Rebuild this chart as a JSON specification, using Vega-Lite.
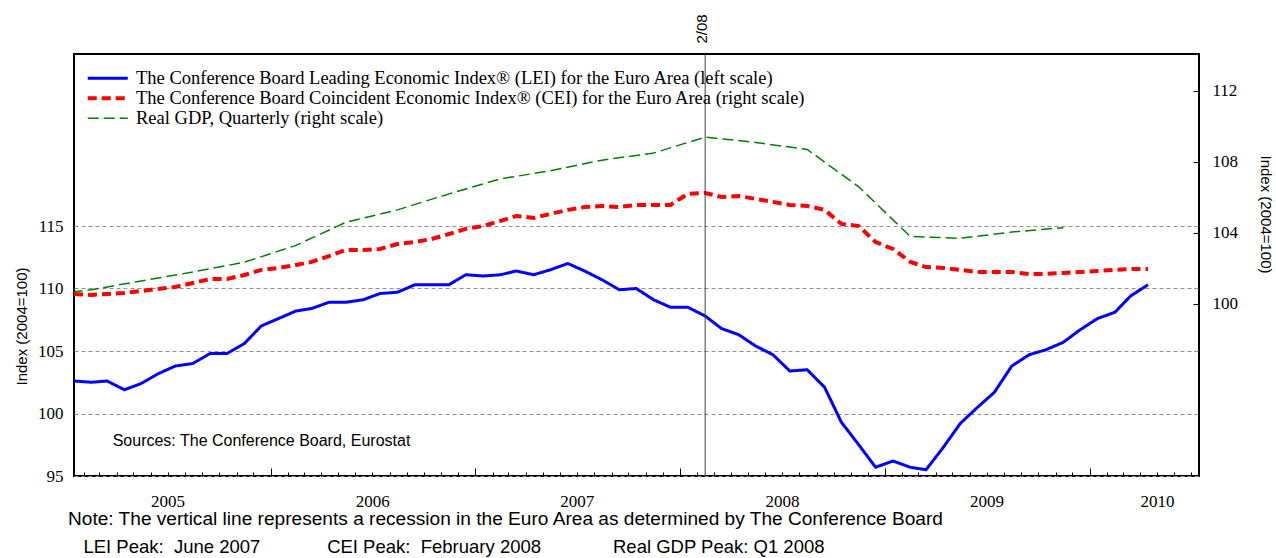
{
  "$schema": "https://vega.github.io/schema/vega-lite/v6.json",
  "width": 1125,
  "height": 422,
  "autosize": "none",
  "padding": {"left": 74, "top": 54, "right": 77, "bottom": 82},
  "background": "white",
  "config": {
    "view": {"stroke": "black", "strokeWidth": 2},
    "legend": {
      "padding": 0,
      "labelFont": "Liberation Serif",
      "labelFontSize": 18.5,
      "labelColor": "black",
      "labelLimit": 1200,
      "symbolType": "M-4,0H4",
      "symbolSize": 100,
      "symbolOffset": 12.5,
      "labelOffset": 19,
      "rowPadding": 1
    }
  },
  "datasets": {
    "series": [
      {"d": "2005-01-15", "s": "LEI", "v": 102.6}, {"d": "2005-02-15", "s": "LEI", "v": 102.5}, {"d": "2005-03-15", "s": "LEI", "v": 102.6}, {"d": "2005-04-15", "s": "LEI", "v": 101.9},
      {"d": "2005-05-15", "s": "LEI", "v": 102.4}, {"d": "2005-06-15", "s": "LEI", "v": 103.2}, {"d": "2005-07-15", "s": "LEI", "v": 103.8}, {"d": "2005-08-15", "s": "LEI", "v": 104.0},
      {"d": "2005-09-15", "s": "LEI", "v": 104.8}, {"d": "2005-10-15", "s": "LEI", "v": 104.8}, {"d": "2005-11-15", "s": "LEI", "v": 105.6}, {"d": "2005-12-15", "s": "LEI", "v": 107.0},
      {"d": "2006-01-15", "s": "LEI", "v": 107.6}, {"d": "2006-02-15", "s": "LEI", "v": 108.2}, {"d": "2006-03-15", "s": "LEI", "v": 108.4}, {"d": "2006-04-15", "s": "LEI", "v": 108.9},
      {"d": "2006-05-15", "s": "LEI", "v": 108.9}, {"d": "2006-06-15", "s": "LEI", "v": 109.1}, {"d": "2006-07-15", "s": "LEI", "v": 109.6}, {"d": "2006-08-15", "s": "LEI", "v": 109.7},
      {"d": "2006-09-15", "s": "LEI", "v": 110.3}, {"d": "2006-10-15", "s": "LEI", "v": 110.3}, {"d": "2006-11-15", "s": "LEI", "v": 110.3}, {"d": "2006-12-15", "s": "LEI", "v": 111.1},
      {"d": "2007-01-15", "s": "LEI", "v": 111.0}, {"d": "2007-02-15", "s": "LEI", "v": 111.1}, {"d": "2007-03-15", "s": "LEI", "v": 111.4}, {"d": "2007-04-15", "s": "LEI", "v": 111.1},
      {"d": "2007-05-15", "s": "LEI", "v": 111.5}, {"d": "2007-06-15", "s": "LEI", "v": 112.0}, {"d": "2007-07-15", "s": "LEI", "v": 111.4}, {"d": "2007-08-15", "s": "LEI", "v": 110.7},
      {"d": "2007-09-15", "s": "LEI", "v": 109.9}, {"d": "2007-10-15", "s": "LEI", "v": 110.0}, {"d": "2007-11-15", "s": "LEI", "v": 109.1}, {"d": "2007-12-15", "s": "LEI", "v": 108.5},
      {"d": "2008-01-15", "s": "LEI", "v": 108.5}, {"d": "2008-02-15", "s": "LEI", "v": 107.8}, {"d": "2008-03-15", "s": "LEI", "v": 106.8}, {"d": "2008-04-15", "s": "LEI", "v": 106.3},
      {"d": "2008-05-15", "s": "LEI", "v": 105.4}, {"d": "2008-06-15", "s": "LEI", "v": 104.7}, {"d": "2008-07-15", "s": "LEI", "v": 103.4}, {"d": "2008-08-15", "s": "LEI", "v": 103.5},
      {"d": "2008-09-15", "s": "LEI", "v": 102.1}, {"d": "2008-10-15", "s": "LEI", "v": 99.3}, {"d": "2008-11-15", "s": "LEI", "v": 97.5}, {"d": "2008-12-15", "s": "LEI", "v": 95.7},
      {"d": "2009-01-15", "s": "LEI", "v": 96.2}, {"d": "2009-02-15", "s": "LEI", "v": 95.7}, {"d": "2009-03-15", "s": "LEI", "v": 95.5}, {"d": "2009-04-15", "s": "LEI", "v": 97.3},
      {"d": "2009-05-15", "s": "LEI", "v": 99.2}, {"d": "2009-06-15", "s": "LEI", "v": 100.5}, {"d": "2009-07-15", "s": "LEI", "v": 101.7}, {"d": "2009-08-15", "s": "LEI", "v": 103.8},
      {"d": "2009-09-15", "s": "LEI", "v": 104.7}, {"d": "2009-10-15", "s": "LEI", "v": 105.1}, {"d": "2009-11-15", "s": "LEI", "v": 105.7}, {"d": "2009-12-15", "s": "LEI", "v": 106.7},
      {"d": "2010-01-15", "s": "LEI", "v": 107.6}, {"d": "2010-02-15", "s": "LEI", "v": 108.1}, {"d": "2010-03-15", "s": "LEI", "v": 109.4}, {"d": "2010-04-15", "s": "LEI", "v": 110.3},

      {"d": "2005-01-15", "s": "CEI", "v": 100.56}, {"d": "2005-02-15", "s": "CEI", "v": 100.51}, {"d": "2005-03-15", "s": "CEI", "v": 100.56}, {"d": "2005-04-15", "s": "CEI", "v": 100.62},
      {"d": "2005-05-15", "s": "CEI", "v": 100.73}, {"d": "2005-06-15", "s": "CEI", "v": 100.85}, {"d": "2005-07-15", "s": "CEI", "v": 100.96}, {"d": "2005-08-15", "s": "CEI", "v": 101.18},
      {"d": "2005-09-15", "s": "CEI", "v": 101.41}, {"d": "2005-10-15", "s": "CEI", "v": 101.41}, {"d": "2005-11-15", "s": "CEI", "v": 101.63}, {"d": "2005-12-15", "s": "CEI", "v": 101.92},
      {"d": "2006-01-15", "s": "CEI", "v": 102.03}, {"d": "2006-02-15", "s": "CEI", "v": 102.2}, {"d": "2006-03-15", "s": "CEI", "v": 102.37}, {"d": "2006-04-15", "s": "CEI", "v": 102.7},
      {"d": "2006-05-15", "s": "CEI", "v": 103.04}, {"d": "2006-06-15", "s": "CEI", "v": 103.04}, {"d": "2006-07-15", "s": "CEI", "v": 103.1}, {"d": "2006-08-15", "s": "CEI", "v": 103.38},
      {"d": "2006-09-15", "s": "CEI", "v": 103.49}, {"d": "2006-10-15", "s": "CEI", "v": 103.66}, {"d": "2006-11-15", "s": "CEI", "v": 103.94}, {"d": "2006-12-15", "s": "CEI", "v": 104.23},
      {"d": "2007-01-15", "s": "CEI", "v": 104.39}, {"d": "2007-02-15", "s": "CEI", "v": 104.68}, {"d": "2007-03-15", "s": "CEI", "v": 104.96}, {"d": "2007-04-15", "s": "CEI", "v": 104.85},
      {"d": "2007-05-15", "s": "CEI", "v": 105.07}, {"d": "2007-06-15", "s": "CEI", "v": 105.3}, {"d": "2007-07-15", "s": "CEI", "v": 105.46}, {"d": "2007-08-15", "s": "CEI", "v": 105.52},
      {"d": "2007-09-15", "s": "CEI", "v": 105.46}, {"d": "2007-10-15", "s": "CEI", "v": 105.58}, {"d": "2007-11-15", "s": "CEI", "v": 105.58}, {"d": "2007-12-15", "s": "CEI", "v": 105.58},
      {"d": "2008-01-15", "s": "CEI", "v": 106.2}, {"d": "2008-02-15", "s": "CEI", "v": 106.25}, {"d": "2008-03-15", "s": "CEI", "v": 106.03}, {"d": "2008-04-15", "s": "CEI", "v": 106.08},
      {"d": "2008-05-15", "s": "CEI", "v": 105.92}, {"d": "2008-06-15", "s": "CEI", "v": 105.75}, {"d": "2008-07-15", "s": "CEI", "v": 105.58}, {"d": "2008-08-15", "s": "CEI", "v": 105.52},
      {"d": "2008-09-15", "s": "CEI", "v": 105.3}, {"d": "2008-10-15", "s": "CEI", "v": 104.51}, {"d": "2008-11-15", "s": "CEI", "v": 104.39}, {"d": "2008-12-15", "s": "CEI", "v": 103.49},
      {"d": "2009-01-15", "s": "CEI", "v": 103.1}, {"d": "2009-02-15", "s": "CEI", "v": 102.37}, {"d": "2009-03-15", "s": "CEI", "v": 102.08}, {"d": "2009-04-15", "s": "CEI", "v": 102.03},
      {"d": "2009-05-15", "s": "CEI", "v": 101.92}, {"d": "2009-06-15", "s": "CEI", "v": 101.8}, {"d": "2009-07-15", "s": "CEI", "v": 101.8}, {"d": "2009-08-15", "s": "CEI", "v": 101.8},
      {"d": "2009-09-15", "s": "CEI", "v": 101.69}, {"d": "2009-10-15", "s": "CEI", "v": 101.69}, {"d": "2009-11-15", "s": "CEI", "v": 101.75}, {"d": "2009-12-15", "s": "CEI", "v": 101.8},
      {"d": "2010-01-15", "s": "CEI", "v": 101.86}, {"d": "2010-02-15", "s": "CEI", "v": 101.92}, {"d": "2010-03-15", "s": "CEI", "v": 101.97}, {"d": "2010-04-15", "s": "CEI", "v": 101.97},

      {"d": "2004-11-15", "s": "GDP", "v": 100.45},
      {"d": "2005-02-15", "s": "GDP", "v": 100.8}, {"d": "2005-05-15", "s": "GDP", "v": 101.3}, {"d": "2005-08-15", "s": "GDP", "v": 101.8}, {"d": "2005-11-15", "s": "GDP", "v": 102.35},
      {"d": "2006-02-15", "s": "GDP", "v": 103.3}, {"d": "2006-05-15", "s": "GDP", "v": 104.6}, {"d": "2006-08-15", "s": "GDP", "v": 105.3}, {"d": "2006-11-15", "s": "GDP", "v": 106.2},
      {"d": "2007-02-15", "s": "GDP", "v": 107.05}, {"d": "2007-05-15", "s": "GDP", "v": 107.5}, {"d": "2007-08-15", "s": "GDP", "v": 108.1}, {"d": "2007-11-15", "s": "GDP", "v": 108.5},
      {"d": "2008-02-15", "s": "GDP", "v": 109.4}, {"d": "2008-05-15", "s": "GDP", "v": 109.1}, {"d": "2008-08-15", "s": "GDP", "v": 108.7}, {"d": "2008-11-15", "s": "GDP", "v": 106.6},
      {"d": "2009-02-15", "s": "GDP", "v": 103.8}, {"d": "2009-05-15", "s": "GDP", "v": 103.7}, {"d": "2009-08-15", "s": "GDP", "v": 104.05}, {"d": "2009-11-15", "s": "GDP", "v": 104.3}
    ],
    "recession": [{"d": "2008-02-15"}]
  },
  "title": {
    "text": "Note: The vertical line represents a recession in the Euro Area as determined by The Conference Board",
    "subtitle": "\u200b\u00a0\u00a0\u00a0LEI Peak: \u00a0June 2007\u00a0\u00a0\u00a0\u00a0\u00a0\u00a0\u00a0\u00a0\u00a0\u00a0\u00a0\u00a0\u00a0CEI Peak: \u00a0February 2008\u00a0\u00a0\u00a0\u00a0\u00a0\u00a0\u00a0\u00a0\u00a0\u00a0\u00a0\u00a0\u00a0\u00a0Real GDP Peak: Q1 2008",
    "orient": "bottom",
    "anchor": "start",
    "frame": "group",
    "dx": -6,
    "offset": 1,
    "font": "Liberation Sans",
    "fontSize": 19.1,
    "fontWeight": "normal",
    "color": "black",
    "subtitleFont": "Liberation Sans",
    "subtitleFontSize": 18.5,
    "subtitleColor": "black",
    "subtitlePadding": 9
  },
  "layer": [
    {
      "layer": [
        {
          "data": {"name": "series"},
          "transform": [{"filter": "datum.s == 'LEI'"}],
          "mark": {"type": "line", "clip": true},
          "encoding": {
            "x": {
              "field": "d", "type": "temporal",
              "scale": {"type": "utc", "domain": [{"year": 2005, "month": 1, "date": 15, "utc": true}, {"year": 2010, "month": 7, "date": 15, "utc": true}]},
              "axis": {
                "orient": "bottom", "labels": false, "domain": false, "grid": false, "title": null,
                "tickCount": {"interval": "month", "step": 1},
                "tickColor": "black", "tickWidth": 1,
                "tickSize": {"condition": {"test": "utcmonth(datum.value) == 0", "value": -8}, "value": -4}
              }
            },
            "y": {
              "field": "v", "type": "quantitative",
              "scale": {"domain": [95, 128.76], "nice": false, "zero": false},
              "axis": {
                "orient": "left", "values": [95, 100, 105, 110, 115],
                "grid": true, "gridDash": [4, 3], "gridColor": "#8f8f8f", "gridWidth": 1,
                "ticks": false, "domain": false,
                "labelFont": "Liberation Serif", "labelFontSize": 17, "labelColor": "black", "labelPadding": 11,
                "title": "Index (2004=100)", "titleFont": "Liberation Sans", "titleFontSize": 15, "titleFontWeight": "normal", "titleColor": "black",
                "titleAngle": -90, "titleX": -53, "titleY": 272, "titleAlign": "center", "titleBaseline": "middle"
              }
            },
            "color": {"field": "s", "type": "nominal", "scale": {"domain": ["LEI", "CEI", "GDP"], "range": ["#0000ff", "#ff0000", "#008000"]},
              "legend": {"orient": "none", "legendX": 12, "legendY": 15, "title": null, "labelExpr": "datum.label == 'LEI' ? 'The Conference Board Leading Economic Index® (LEI) for the Euro Area (left scale)' : datum.label == 'CEI' ? 'The Conference Board Coincident Economic Index® (CEI) for the Euro Area (right scale)' : 'Real GDP, Quarterly (right scale)'"}},
            "strokeDash": {"field": "s", "type": "nominal", "scale": {"domain": ["LEI", "CEI", "GDP"], "range": [[1, 0], [9, 5], [11, 5]]},
              "legend": {"orient": "none", "legendX": 12, "legendY": 15, "title": null, "labelExpr": "datum.label == 'LEI' ? 'The Conference Board Leading Economic Index® (LEI) for the Euro Area (left scale)' : datum.label == 'CEI' ? 'The Conference Board Coincident Economic Index® (CEI) for the Euro Area (right scale)' : 'Real GDP, Quarterly (right scale)'"}},
            "strokeWidth": {"field": "s", "type": "nominal", "scale": {"type": "ordinal", "domain": ["LEI", "CEI", "GDP"], "range": [3, 4, 1.5]},
              "legend": {"orient": "none", "legendX": 12, "legendY": 15, "title": null, "labelExpr": "datum.label == 'LEI' ? 'The Conference Board Leading Economic Index® (LEI) for the Euro Area (left scale)' : datum.label == 'CEI' ? 'The Conference Board Coincident Economic Index® (CEI) for the Euro Area (right scale)' : 'Real GDP, Quarterly (right scale)'"}}
          }
        },
        {
          "data": {"values": [{}]},
          "mark": {"type": "text", "align": "left", "baseline": "middle", "font": "Liberation Sans", "fontSize": 16, "color": "black"},
          "encoding": {
            "x": {"datum": {"year": 2005, "month": 3, "date": 25, "utc": true}, "type": "temporal", "axis": null},
            "y": {"datum": 97.8, "type": "quantitative"},
            "text": {"value": "Sources: The Conference Board, Eurostat"}
          }
        }
      ],
      "resolve": {"axis": {"x": "independent"}}
    },
    {
      "layer": [
        {
          "data": {"name": "series"},
          "transform": [{"filter": "datum.s != 'LEI'"}],
          "mark": {"type": "line", "clip": true},
          "encoding": {
            "x": {
              "field": "d", "type": "temporal",
              "axis": {
                "orient": "bottom", "ticks": false, "domain": false, "grid": false, "title": null,
                "values": [
                  {"year": 2005, "month": 7, "date": 1, "utc": true},
                  {"year": 2006, "month": 7, "date": 1, "utc": true},
                  {"year": 2007, "month": 7, "date": 1, "utc": true},
                  {"year": 2008, "month": 7, "date": 1, "utc": true},
                  {"year": 2009, "month": 7, "date": 1, "utc": true},
                  {"year": 2010, "month": 5, "date": 1, "utc": true}
                ],
                "labelExpr": "utcFormat(datum.value, '%Y')",
                "labelFont": "Liberation Serif", "labelFontSize": 17, "labelColor": "black", "labelPadding": 17
              }
            },
            "y": {
              "field": "v", "type": "quantitative",
              "scale": {"domain": [90.31, 114.08], "nice": false, "zero": false},
              "axis": {
                "orient": "right", "values": [100, 104, 108, 112],
                "ticks": true, "tickSize": -6, "tickColor": "black", "domain": false, "grid": false,
                "labelFont": "Liberation Serif", "labelFontSize": 17, "labelColor": "black", "labelPadding": 19,
                "title": "Index (2004=100)", "titleFont": "Liberation Sans", "titleFontSize": 15, "titleFontWeight": "normal", "titleColor": "black",
                "titleAngle": 90, "titleX": 66, "titleY": 160, "titleAlign": "center", "titleBaseline": "middle"
              }
            },
            "color": {"field": "s", "type": "nominal", "scale": {"domain": ["LEI", "CEI", "GDP"], "range": ["#0000ff", "#ff0000", "#008000"]},
              "legend": {"orient": "none", "legendX": 12, "legendY": 15, "title": null, "labelExpr": "datum.label == 'LEI' ? 'The Conference Board Leading Economic Index® (LEI) for the Euro Area (left scale)' : datum.label == 'CEI' ? 'The Conference Board Coincident Economic Index® (CEI) for the Euro Area (right scale)' : 'Real GDP, Quarterly (right scale)'"}},
            "strokeDash": {"field": "s", "type": "nominal", "scale": {"domain": ["LEI", "CEI", "GDP"], "range": [[1, 0], [9, 5], [11, 5]]},
              "legend": {"orient": "none", "legendX": 12, "legendY": 15, "title": null, "labelExpr": "datum.label == 'LEI' ? 'The Conference Board Leading Economic Index® (LEI) for the Euro Area (left scale)' : datum.label == 'CEI' ? 'The Conference Board Coincident Economic Index® (CEI) for the Euro Area (right scale)' : 'Real GDP, Quarterly (right scale)'"}},
            "strokeWidth": {"field": "s", "type": "nominal", "scale": {"type": "ordinal", "domain": ["LEI", "CEI", "GDP"], "range": [3, 4, 1.5]},
              "legend": {"orient": "none", "legendX": 12, "legendY": 15, "title": null, "labelExpr": "datum.label == 'LEI' ? 'The Conference Board Leading Economic Index® (LEI) for the Euro Area (left scale)' : datum.label == 'CEI' ? 'The Conference Board Coincident Economic Index® (CEI) for the Euro Area (right scale)' : 'Real GDP, Quarterly (right scale)'"}}
          }
        },
        {
          "data": {"name": "recession"},
          "mark": {"type": "rule", "color": "#404040", "strokeWidth": 1},
          "encoding": {
            "x": {
              "field": "d", "type": "temporal",
              "axis": {
                "orient": "top", "ticks": false, "domain": false, "grid": false, "title": null,
                "values": [{"year": 2008, "month": 2, "date": 15, "utc": true}],
                "labelExpr": "utcFormat(datum.value, '%-m/%y')",
                "labelAngle": -90, "labelAlign": "left", "labelBaseline": "middle",
                "labelFont": "Liberation Sans", "labelFontSize": 15, "labelColor": "black",
                "labelPadding": 11, "labelOffset": -4
              }
            }
          }
        }
      ],
      "resolve": {"axis": {"x": "independent"}}
    }
  ],
  "resolve": {"scale": {"y": "independent"}, "axis": {"x": "independent", "y": "independent"}}
}
